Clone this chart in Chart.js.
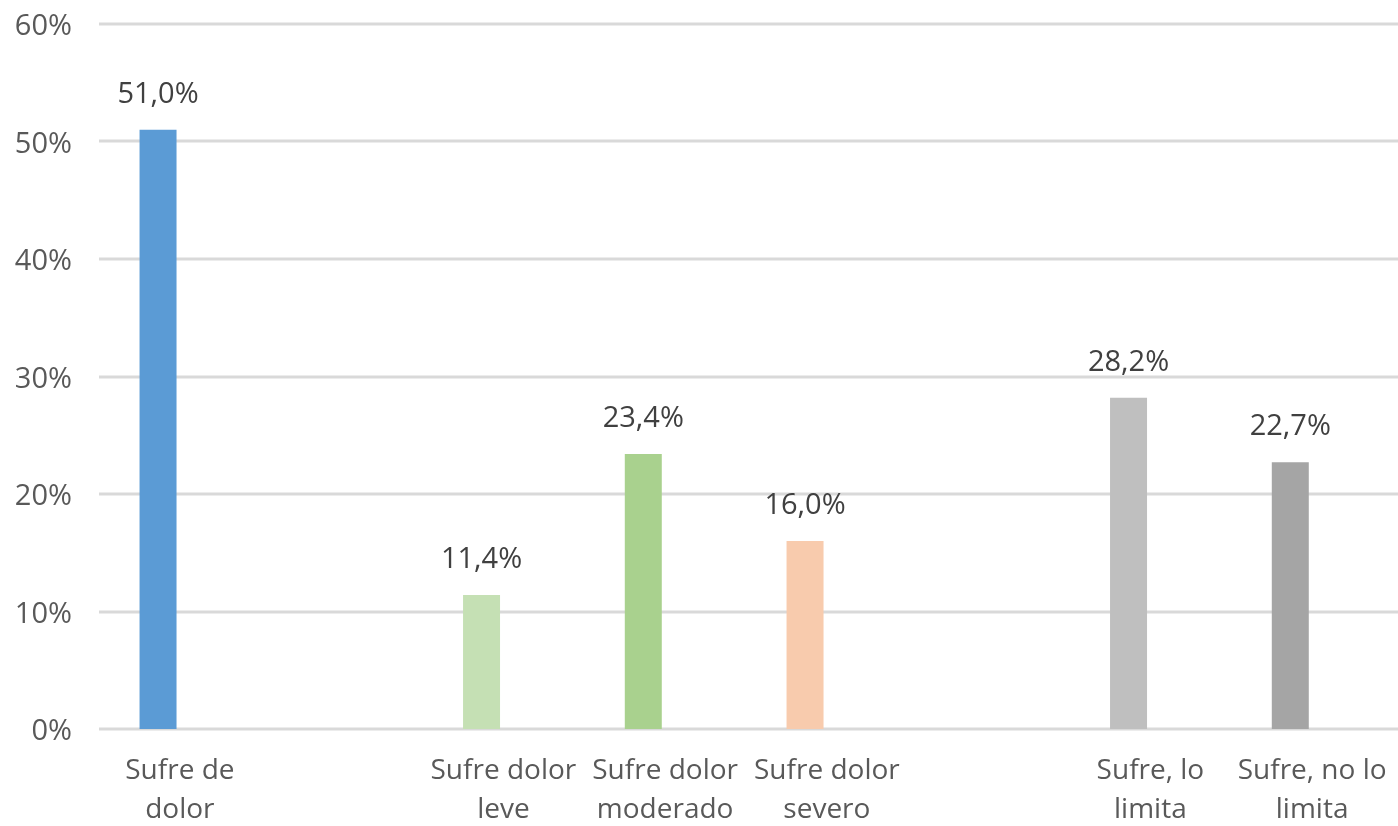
<!DOCTYPE html>
<html>
<head>
<meta charset="utf-8">
<script src="https://cdn.jsdelivr.net/npm/chart.js@4"></script>
<style>
  html, body { margin: 0; padding: 0; background: #fff; }
  #wrap { width: 1398px; height: 826px; }
</style>
</head>
<body>
<div id="wrap"><canvas id="chart"></canvas></div>
<script>
// Categories (two empty slots act as gaps between groups)
const categories = [
    ['Sufre de', 'dolor'],
    '',
    ['Sufre dolor', 'leve'],
    ['Sufre dolor', 'moderado'],
    ['Sufre dolor', 'severo'],
    '',
    ['Sufre, lo', 'limita'],
    ['Sufre, no lo', 'limita']
];
const values = [51.0, null, 11.4, 23.4, 16.0, null, 28.2, 22.7];
// second, empty series: it only takes the right half of each slot, like the original
const emptySeries = [null, null, null, null, null, null, null, null];
const barColors = ['#5B9BD5', '#FFFFFF', '#C5E0B4', '#A9D18E', '#F8CBAD', '#FFFFFF', '#BFBFBF', '#A5A5A5'];
const yTicks = [0, 10, 20, 30, 40, 50, 60];

const FONT = "'Open Sans', sans-serif";

function pct(v) {
    return v.toFixed(1).replace('.', ',') + '%';
}

// Horizontal gridlines from the y scale, running to the right edge of the canvas
const gridPlugin = {
    id: 'grid',
    beforeDatasetsDraw(chart) {
        const ctx = chart.ctx;
        const y = chart.scales.y;
        ctx.save();
        ctx.strokeStyle = '#D9D9D9';
        ctx.lineWidth = 3;
        yTicks.forEach(function(t) {
            const py = Math.round(y.getPixelForValue(t));
            ctx.beginPath();
            ctx.moveTo(chart.chartArea.left, py);
            ctx.lineTo(chart.width, py);
            ctx.stroke();
        });
        ctx.restore();
    }
};

// Value labels above bars
const labelPlugin = {
    id: 'barLabels',
    afterDatasetsDraw(chart) {
        const ctx = chart.ctx;
        const meta = chart.getDatasetMeta(0);
        ctx.save();
        ctx.font = '29px ' + FONT;
        ctx.fillStyle = '#404040';
        ctx.textAlign = 'center';
        ctx.textBaseline = 'alphabetic';
        meta.data.forEach(function(bar, i) {
            if (values[i] === null) return;
            ctx.fillText(pct(values[i]), bar.x, bar.y - 27);
        });
        ctx.restore();
    }
};

const ctx = document.getElementById('chart').getContext('2d');
new Chart(ctx, {
    type: 'bar',
    data: {
        labels: categories,
        datasets: [{
            data: values,
            backgroundColor: barColors,
            borderWidth: 0,
            categoryPercentage: 0.54,
            barPercentage: 0.847
        }, {
            data: emptySeries,
            backgroundColor: '#FFFFFF',
            borderWidth: 0,
            categoryPercentage: 0.54,
            barPercentage: 0.847
        }]
    },
    options: {
        responsive: true,
        maintainAspectRatio: false,
        animation: false,
        layout: { padding: { top: 24, right: 5, left: 0, bottom: 0 } },
        plugins: {
            legend: { display: false },
            tooltip: { enabled: false }
        },
        scales: {
            x: {
                grid: { display: false, drawTicks: false },
                border: { display: false },
                ticks: {
                    color: '#595959',
                    font: { family: FONT, size: 28, lineHeight: 1.4 },
                    padding: 22,
                    maxRotation: 0,
                    autoSkip: false
                },
                afterFit: function(scale) {
                    scale.height = 97;
                    scale.paddingLeft = 0;
                    scale.paddingRight = 0;
                }
            },
            y: {
                min: 0,
                max: 60,
                grid: { display: false, drawTicks: false },
                border: { display: false },
                ticks: {
                    stepSize: 10,
                    color: '#595959',
                    font: { family: FONT, size: 29 },
                    padding: 27,
                    labelOffset: 3,
                    callback: function(v) { return v + '%'; }
                },
                afterFit: function(scale) {
                    scale.width = 99;
                    scale.paddingTop = 0;
                    scale.paddingBottom = 0;
                }
            }
        }
    },
    plugins: [gridPlugin, labelPlugin]
});
</script>
</body>
</html>
